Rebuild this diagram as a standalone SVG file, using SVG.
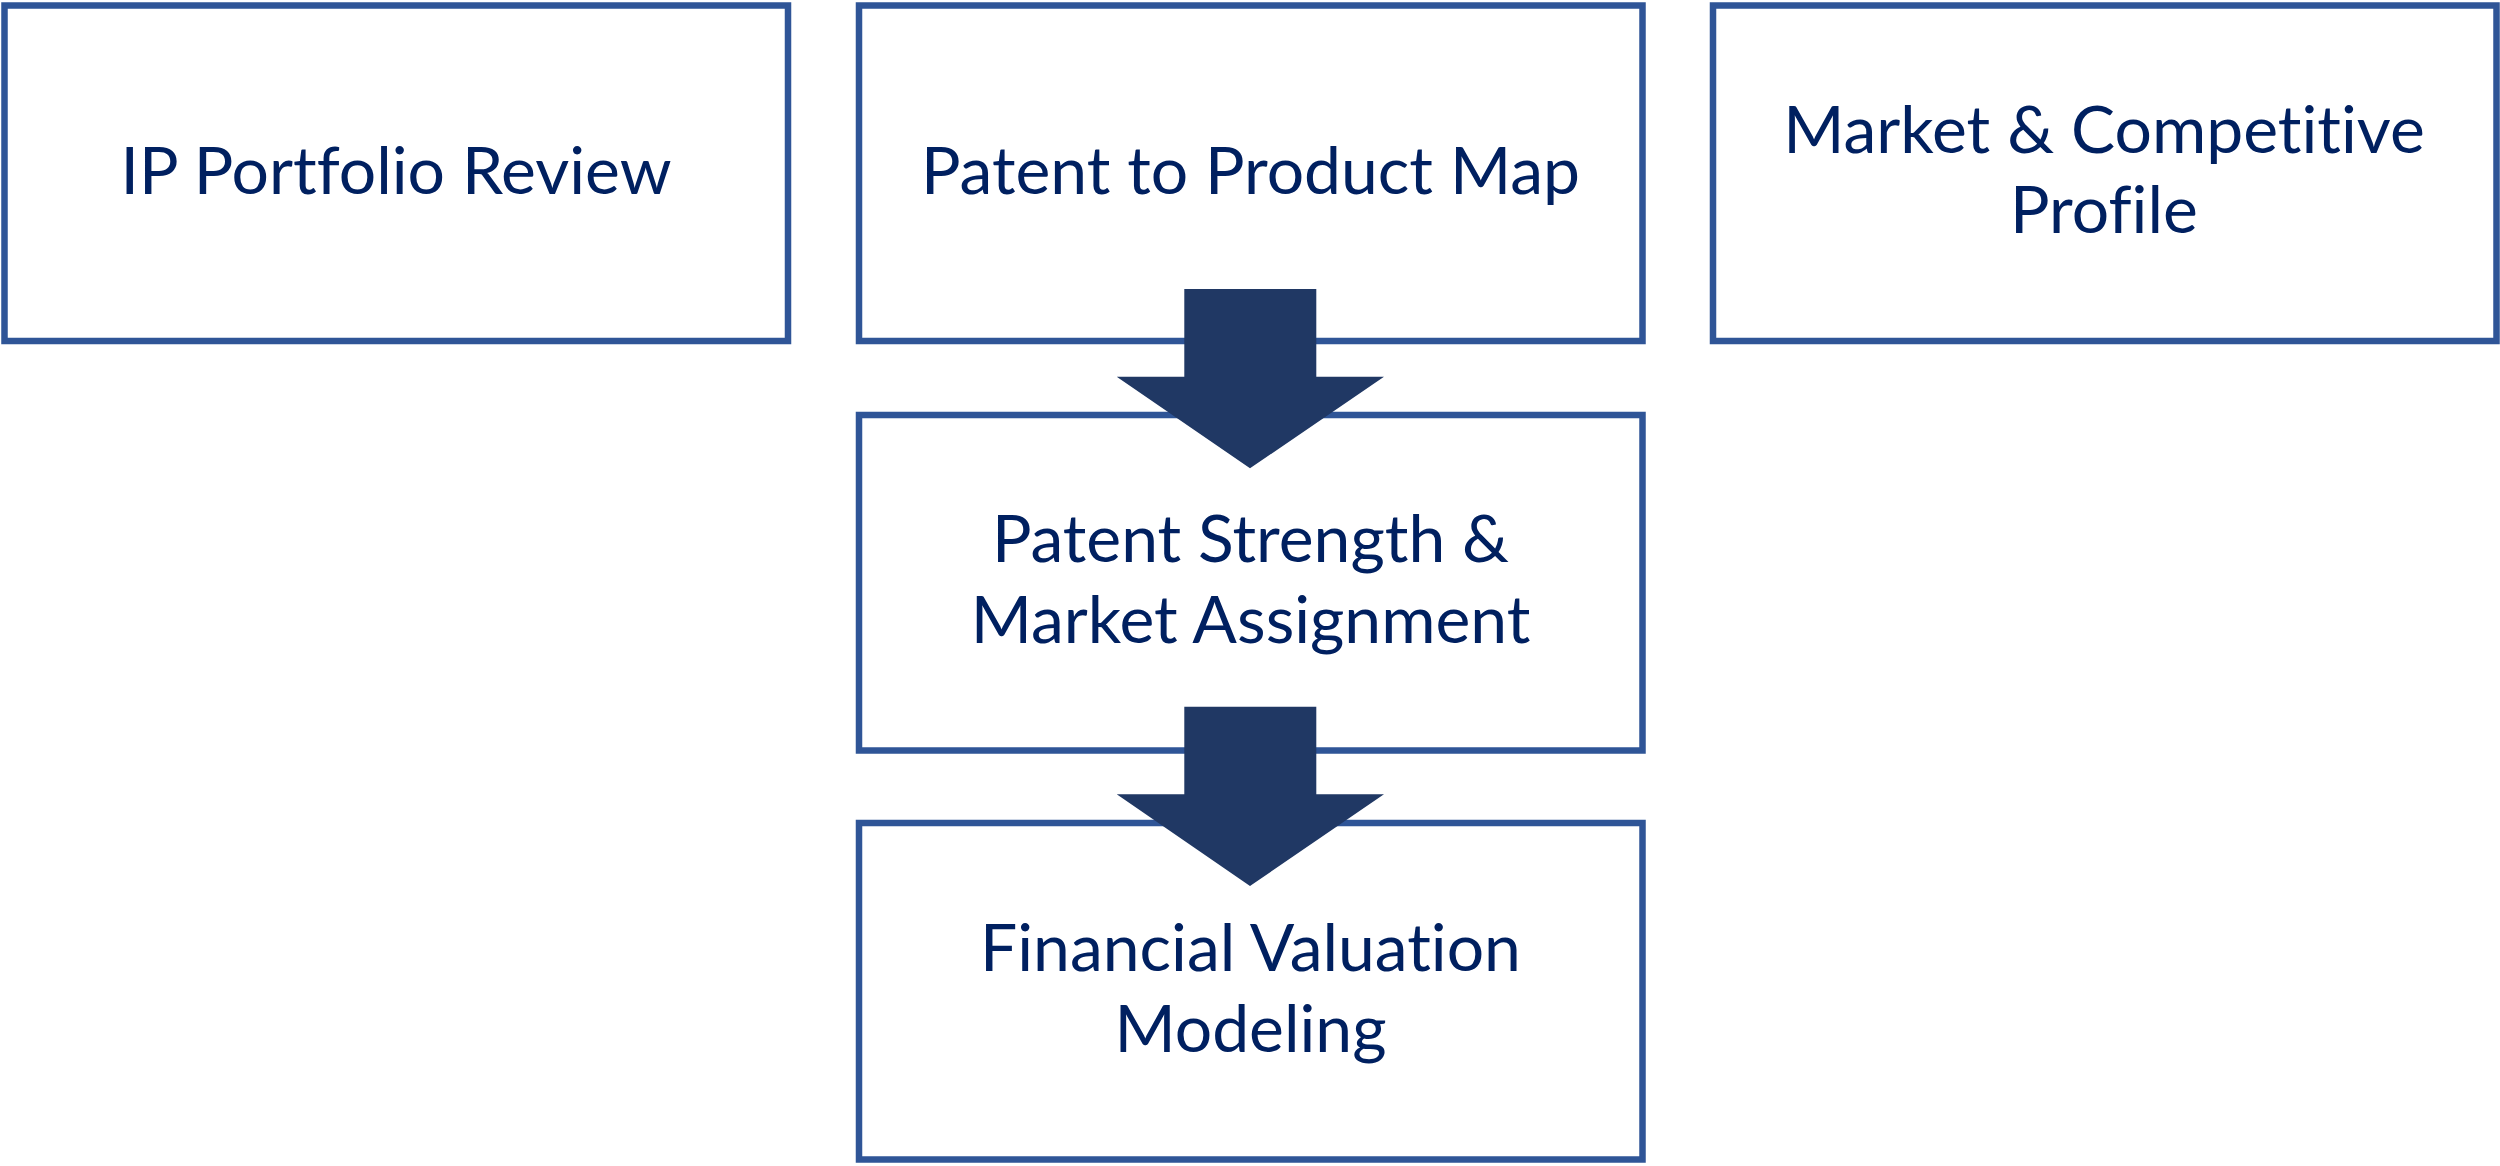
<svg xmlns="http://www.w3.org/2000/svg" width="2500" height="1166" viewBox="0 0 2500 1166">
<style>
.box{fill:#FFFFFF;stroke:#2F5597;stroke-width:6.5}
.lbl{font-family:Lato,"Open Sans","Liberation Sans",sans-serif;font-size:66px;fill:#002060;text-anchor:middle;font-variant-ligatures:none;font-feature-settings:"liga" 0,"clig" 0}
.arr{fill:#203864}
</style>
<rect width="2500" height="1166" fill="#FFFFFF"/>
<g id="node-ip-portfolio-review">
<rect class="box" x="4.5" y="5.5" width="783.5" height="335.5"/>
<text class="lbl" x="396" y="194">IP Portfolio Review</text>
</g>
<g id="node-patent-to-product-map">
<rect class="box" x="859" y="5.5" width="783.5" height="335.5"/>
<text class="lbl" x="1250.5" y="194">Patent to Product Map</text>
</g>
<g id="node-market-competitive-profile">
<rect class="box" x="1713" y="5.5" width="783.5" height="335.5"/>
<text class="lbl" x="2104" y="153">Market &amp; Competitive</text>
<text class="lbl" x="2104" y="233">Profile</text>
</g>
<g id="node-patent-strength-market-assignment">
<rect class="box" x="859" y="415" width="783.5" height="335.5"/>
<text class="lbl" x="1250.5" y="562">Patent Strength &amp;</text>
<text class="lbl" x="1250.5" y="643">Market Assignment</text>
</g>
<g id="node-financial-valuation-modeling">
<rect class="box" x="859" y="823" width="783.5" height="336.5"/>
<text class="lbl" x="1250.5" y="971">Financial Valuation</text>
<text class="lbl" x="1250.5" y="1052">Modeling</text>
</g>
<g id="connectors">
<polygon class="arr" points="1184.3,289 1316.3,289 1316.3,376.7 1384,376.7 1250,468.3 1116.7,376.7 1184.3,376.7"/>
<polygon class="arr" points="1184.3,706.7 1316.3,706.7 1316.3,794.3 1384,794.3 1250,886 1116.7,794.3 1184.3,794.3"/>
</g>
</svg>
